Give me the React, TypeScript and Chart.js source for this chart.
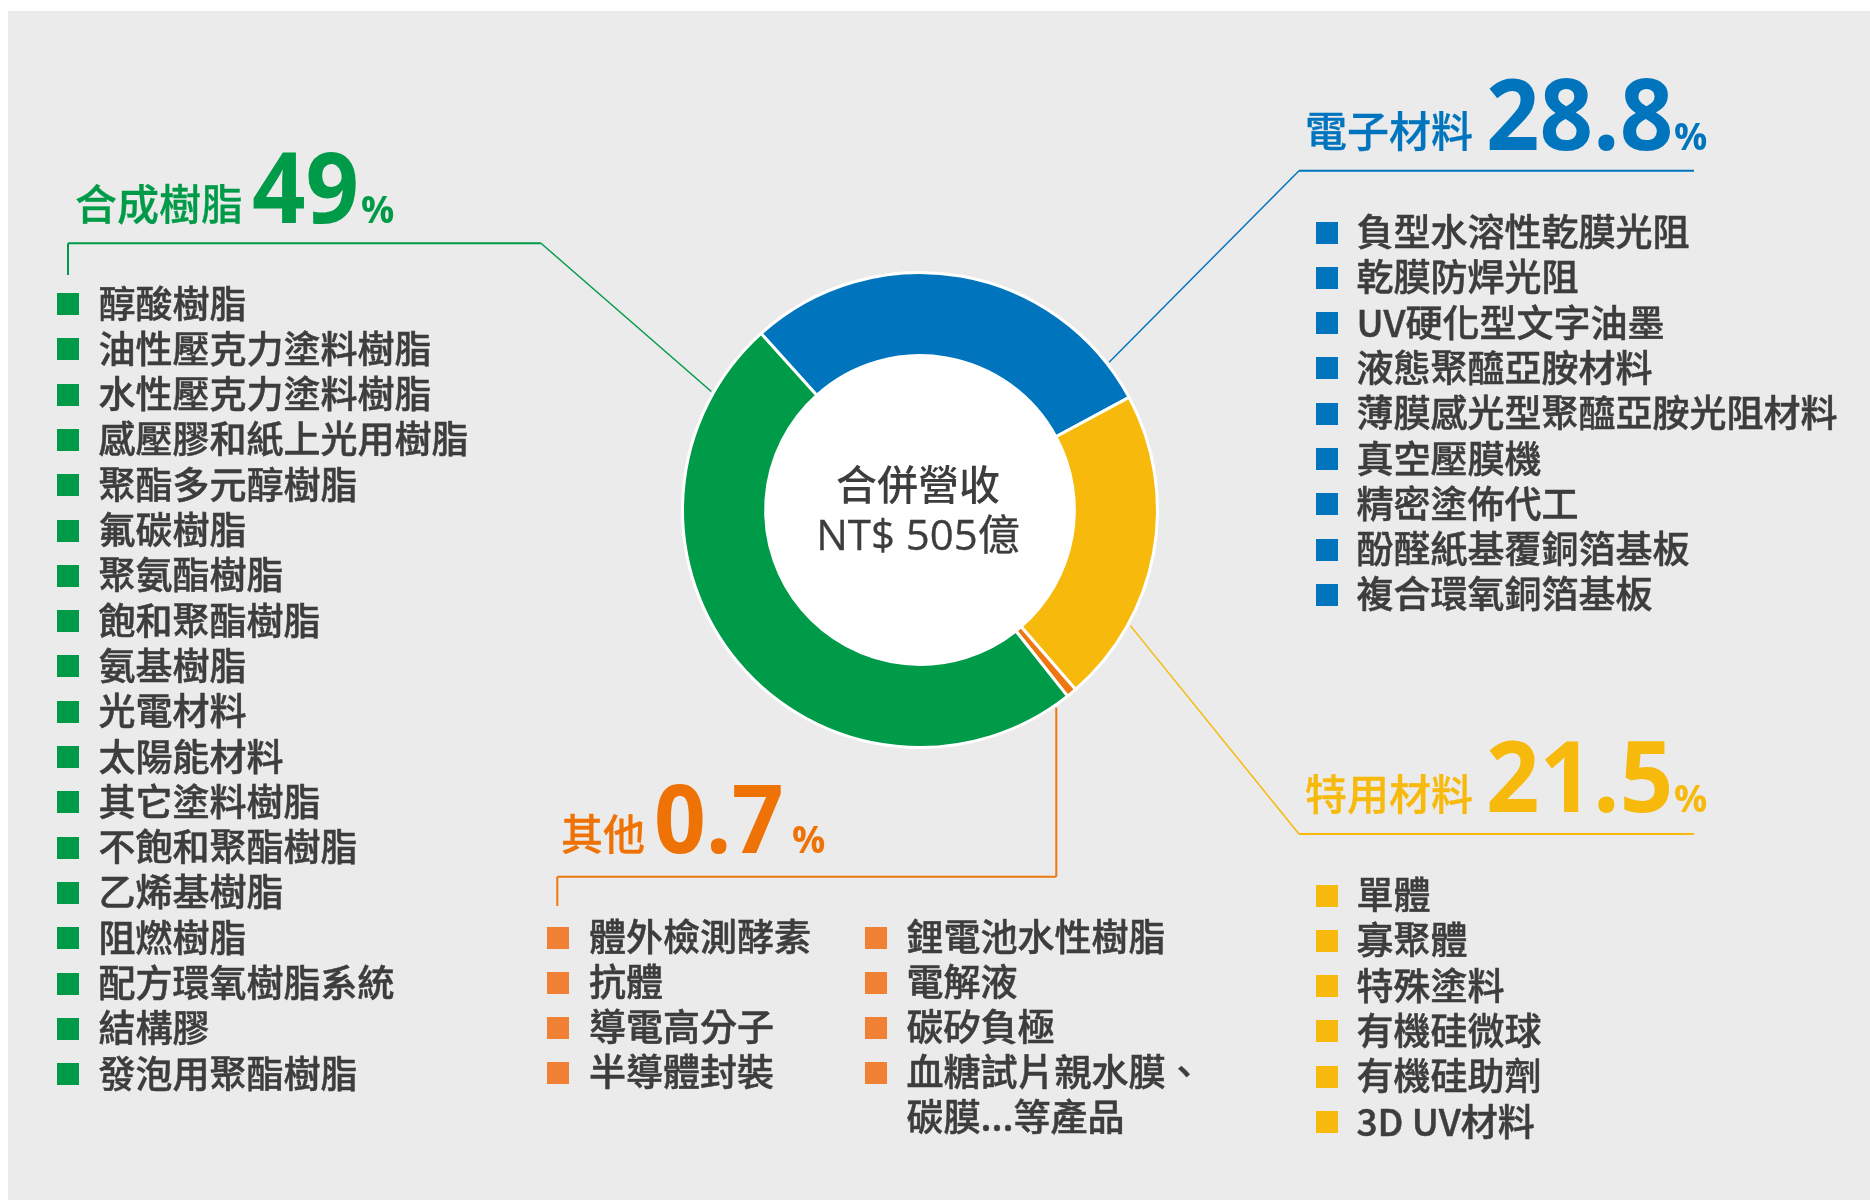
import React, { useEffect, useRef } from "react";
import { Chart, registerables } from "chart.js";

Chart.register(...registerables);

// ---------------- data ----------------
const segmentNames = ["電子材料", "特用材料", "其他", "合成樹脂"];
const segmentShares = [28.8, 21.5, 0.7, 49];
const shareLabels = ["28.8", "21.5", "0.7", "49"];
const segmentColors = ["#0075BE", "#F7B90C", "#EE7711", "#009B48"];

const centerTitle = "合併營收";
const centerValue = "NT$ 505億";

const syntheticItems = [
  "醇酸樹脂",
  "油性壓克力塗料樹脂",
  "水性壓克力塗料樹脂",
  "感壓膠和紙上光用樹脂",
  "聚酯多元醇樹脂",
  "氟碳樹脂",
  "聚氨酯樹脂",
  "飽和聚酯樹脂",
  "氨基樹脂",
  "光電材料",
  "太陽能材料",
  "其它塗料樹脂",
  "不飽和聚酯樹脂",
  "乙烯基樹脂",
  "阻燃樹脂",
  "配方環氧樹脂系統",
  "結構膠",
  "發泡用聚酯樹脂",
];

const electronicItems = [
  "負型水溶性乾膜光阻",
  "乾膜防焊光阻",
  "UV硬化型文字油墨",
  "液態聚醯亞胺材料",
  "薄膜感光型聚醯亞胺光阻材料",
  "真空壓膜機",
  "精密塗佈代工",
  "酚醛紙基覆銅箔基板",
  "複合環氧銅箔基板",
];

const specialtyItems = ["單體", "寡聚體", "特殊塗料", "有機硅微球", "有機硅助劑", "3D UV材料"];

const otherItemsLeft = ["體外檢測酵素", "抗體", "導電高分子", "半導體封裝"];
const otherItemsRight = ["鋰電池水性樹脂", "電解液", "碳矽負極", "血糖試片親水膜、\n碳膜...等產品"];

// ---------------- layout / style ----------------
const TEXT = "#3D3D3D";
const CJK = '"Noto Sans CJK TC", "Noto Sans CJK JP", sans-serif';
const LAT = '"Open Sans", "Noto Sans CJK TC", sans-serif';
const ORANGE_TEXT = "#EE7205";
const ORANGE_BULLET = "#F08134";

const cjkTop = (baseline: number, f: number) => baseline - 0.936 * f;
const latTop = (baseline: number, f: number) => baseline - 0.888 * f;

type HeaderSpec = {
  seg: number;
  color: string;
  nameX: number;
  nameBase: number;
  numX: number;
  numBase: number;
  numSize: number;
  pctX: number;
  pctBase: number;
};

const headers: HeaderSpec[] = [
  { seg: 3, color: "#009B48", nameX: 75, nameBase: 220, numX: 252, numBase: 222.7, numSize: 98, pctX: 361, pctBase: 222.7 },
  { seg: 0, color: "#0075BE", nameX: 1305, nameBase: 147.5, numX: 1486, numBase: 150, numSize: 98, pctX: 1674, pctBase: 150 },
  { seg: 1, color: "#F7B90C", nameX: 1305, nameBase: 810.8, numX: 1486, numBase: 811.7, numSize: 98, pctX: 1674, pctBase: 812 },
  { seg: 2, color: ORANGE_TEXT, nameX: 561, nameBase: 850.8, numX: 654, numBase: 853, numSize: 95, pctX: 792, pctBase: 853 },
];

type ListSpec = {
  items: string[];
  color: string;
  bulletX: number;
  textX: number;
  firstCenter: number;
  pitch: number;
};

const lists: ListSpec[] = [
  { items: syntheticItems, color: "#009B48", bulletX: 57, textX: 98.5, firstCenter: 304, pitch: 45.3 },
  { items: electronicItems, color: "#0075BE", bulletX: 1316, textX: 1356.5, firstCenter: 232.5, pitch: 45.3 },
  { items: specialtyItems, color: "#F7B90C", bulletX: 1316, textX: 1356.5, firstCenter: 895.5, pitch: 45.3 },
  { items: otherItemsLeft, color: ORANGE_BULLET, bulletX: 546.5, textX: 589, firstCenter: 937.5, pitch: 45 },
  { items: otherItemsRight, color: ORANGE_BULLET, bulletX: 864.5, textX: 906.5, firstCenter: 937.5, pitch: 45 },
];

// leader lines: angle on the ring (deg, clockwise from top) and elbow points
type Leader = { color: string; angle: number; points: Array<[number | null, number]> };
const leaders: Leader[] = [
  { color: "#009B48", angle: -60.4, points: [[541, 243.3], [68, 243.3], [68, 275]] },
  { color: "#0075BE", angle: 52, points: [[1299, 170.7], [1694, 170.7]] },
  { color: "#F7B90C", angle: 118.8, points: [[1299, 834], [1694, 834]] },
  { color: "#EE7711", angle: 145.4, points: [[null, 876.7], [557.3, 876.7], [557.3, 906]] },
];

const LIST_FONT = 37;
const ROW_H = 45;
const HEAVY = { fontWeight: 500, WebkitTextStroke: "0.5px " + TEXT } as React.CSSProperties;

function ListBlock({ spec }: { spec: ListSpec }) {
  return (
    <>
      {spec.items.map((label, i) => {
        const cy = spec.firstCenter + spec.pitch * i;
        return (
          <React.Fragment key={i}>
            <div
              style={{
                position: "absolute",
                left: spec.bulletX,
                top: cy - 11,
                width: 22,
                height: 22,
                background: spec.color,
              }}
            />
            <div
              style={{
                position: "absolute",
                left: spec.textX,
                top: cy - ROW_H / 2 - 2,
                fontFamily: CJK,
                fontSize: LIST_FONT,
                lineHeight: ROW_H + "px",
                color: TEXT,
                whiteSpace: "pre",
                ...HEAVY,
              }}
            >
              {label}
            </div>
          </React.Fragment>
        );
      })}
    </>
  );
}

function Header({ spec }: { spec: HeaderSpec }) {
  const nameSize = 42;
  const pctSize = 37;
  return (
    <>
      <div
        style={{
          position: "absolute",
          left: spec.nameX,
          top: cjkTop(spec.nameBase, nameSize),
          fontFamily: CJK,
          fontSize: nameSize,
          lineHeight: nameSize + "px",
          color: spec.color,
          whiteSpace: "nowrap",
          fontWeight: 500,
          WebkitTextStroke: "0.3px " + spec.color,
        }}
      >
        {segmentNames[spec.seg]}
      </div>
      <div
        style={{
          position: "absolute",
          left: spec.numX,
          top: latTop(spec.numBase, spec.numSize),
          fontFamily: LAT,
          fontWeight: 700,
          fontSize: spec.numSize,
          lineHeight: spec.numSize + "px",
          color: spec.color,
          whiteSpace: "nowrap",
          transform: "scaleX(0.955)",
          transformOrigin: "left top",
        }}
      >
        {shareLabels[spec.seg]}
      </div>
      <div
        style={{
          position: "absolute",
          left: spec.pctX,
          top: latTop(spec.pctBase, pctSize),
          fontFamily: LAT,
          fontWeight: 700,
          fontSize: pctSize,
          lineHeight: pctSize + "px",
          color: spec.color,
          whiteSpace: "nowrap",
        }}
      >
        %
      </div>
    </>
  );
}

export default function App() {
  const canvasRef = useRef<HTMLCanvasElement | null>(null);

  useEffect(() => {
    const canvas = canvasRef.current;
    if (!canvas) return;

    const centerFill = {
      id: "centerFill",
      beforeDatasetsDraw(chart: any) {
        const arc = chart.getDatasetMeta(0).data[0] as any;
        if (!arc) return;
        const ctx = chart.ctx as CanvasRenderingContext2D;
        ctx.save();
        ctx.fillStyle = "#FFFFFF";
        ctx.beginPath();
        ctx.arc(arc.x, arc.y, arc.innerRadius + 1, 0, Math.PI * 2);
        ctx.fill();
        ctx.restore();
      },
    };

    const leaderLines = {
      id: "leaderLines",
      afterDatasetsDraw(chart: any) {
        const arc = chart.getDatasetMeta(0).data[0] as any;
        if (!arc) return;
        const ctx = chart.ctx as CanvasRenderingContext2D;
        const r = arc.outerRadius + 2.5;
        ctx.save();
        ctx.lineCap = "butt";
        ctx.lineJoin = "miter";
        leaders.forEach((ld) => {
          const a = (ld.angle * Math.PI) / 180;
          const sx = arc.x + r * Math.sin(a);
          const sy = arc.y - r * Math.cos(a);
          const pts: Array<[number, number]> = [[sx, sy]];
          ld.points.forEach(([x, y]) => pts.push([x === null ? sx : x, y]));
          ctx.strokeStyle = ld.color;
          for (let i = 1; i < pts.length; i++) {
            const [x0, y0] = pts[i - 1];
            const [x1, y1] = pts[i];
            const diag = Math.abs(x1 - x0) > 0.5 && Math.abs(y1 - y0) > 0.5;
            ctx.lineWidth = diag ? 1.5 : 2;
            ctx.beginPath();
            ctx.moveTo(x0, y0);
            ctx.lineTo(x1, y1);
            ctx.stroke();
          }
        });
        ctx.restore();
      },
    };

    const chart = new Chart(canvas, {
      type: "doughnut",
      data: {
        labels: segmentNames,
        datasets: [
          {
            data: segmentShares,
            backgroundColor: segmentColors,
            borderColor: "#FFFFFF",
            borderWidth: 3,
            hoverOffset: 0,
          },
        ],
      },
      options: {
        responsive: false,
        animation: false,
        devicePixelRatio: 1,
        rotation: -42,
        cutout: "65%",
        events: [],
        layout: { padding: { left: 681, top: 271, right: 711, bottom: 451 } },
        plugins: {
          legend: { display: false },
          tooltip: { enabled: false },
        },
      },
      plugins: [centerFill, leaderLines],
    } as any);

    return () => chart.destroy();
  }, []);

  return (
    <div
      style={{
        position: "absolute",
        left: 0,
        top: 0,
        width: 1870,
        height: 1200,
        background: "#FFFFFF",
        overflow: "hidden",
      }}
    >
      <div
        style={{
          position: "absolute",
          left: 8,
          top: 11,
          right: 0,
          bottom: 0,
          background: "#EBEBEB",
        }}
      />
      <canvas
        ref={canvasRef}
        width={1870}
        height={1200}
        style={{ position: "absolute", left: 0, top: 0, width: 1870, height: 1200 }}
      />
      {headers.map((h, i) => (
        <Header key={i} spec={h} />
      ))}
      {lists.map((l, i) => (
        <ListBlock key={i} spec={l} />
      ))}
      <div
        style={{
          position: "absolute",
          left: 718,
          width: 400,
          top: cjkTop(500.5, 41),
          textAlign: "center",
          fontFamily: CJK,
          fontSize: 41,
          lineHeight: "41px",
          color: TEXT,
          fontWeight: 500,
        }}
      >
        {centerTitle}
      </div>
      <div
        style={{
          position: "absolute",
          left: 718,
          width: 400,
          top: latTop(550, 42),
          textAlign: "center",
          fontFamily: LAT,
          fontSize: 42,
          lineHeight: "42px",
          color: TEXT,
          whiteSpace: "nowrap",
          WebkitTextStroke: "0.3px " + TEXT,
        }}
      >
        {centerValue}
      </div>
    </div>
  );
}
